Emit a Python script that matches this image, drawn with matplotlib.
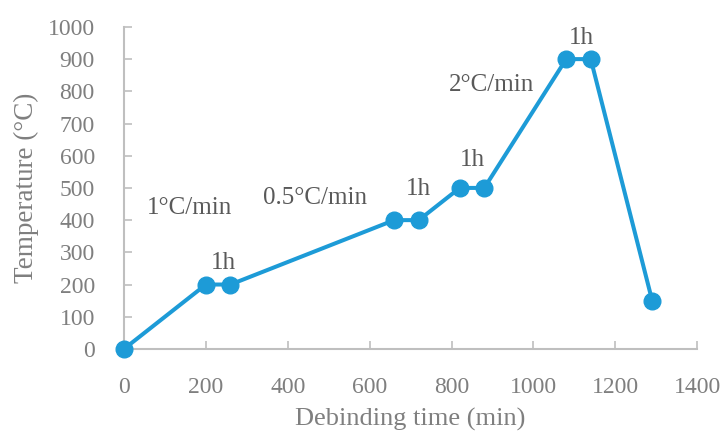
import matplotlib.pyplot as plt

# debinding schedule
time_min = [0, 200, 260, 660, 720, 820, 880, 1080, 1140, 1290]
temp_c = [0, 200, 200, 400, 400, 500, 500, 900, 900, 150]

rate_labels = ["1°C/min", "0.5°C/min", "2°C/min"]
rate_pos = [(160, 438), (467, 469), (897, 820)]
hold_labels = ["1h", "1h", "1h", "1h"]
hold_pos = [(244, 267), (719, 497), (851, 587), (1117, 966)]

LINE = "#1D9BD7"
AXIS = "#BFBFBF"
TICK_TXT = "#7F7F7F"
NOTE_TXT = "#595959"

plt.rcParams["font.family"] = ["Liberation Serif", "DejaVu Serif"]

fig = plt.figure(figsize=(7.21, 4.34), dpi=100)
ax = fig.add_axes([0.172, 0.196, 0.795, 0.742])

ax.plot(time_min, temp_c, "-o", color=LINE, lw=2.9, markersize=12,
        clip_on=False, zorder=3)

for txt, (x, y) in zip(rate_labels, rate_pos):
    ax.text(x, y, txt, ha="center", va="center", fontsize=18, color=NOTE_TXT)
for txt, (x, y) in zip(hold_labels, hold_pos):
    ax.text(x, y, txt, ha="center", va="center", fontsize=18, color=NOTE_TXT)

ax.set_xlim(0, 1400)
ax.set_ylim(0, 1000)
ax.set_xticks(range(0, 1401, 200))
ax.set_yticks(range(0, 1001, 100))

for side in ("top", "right"):
    ax.spines[side].set_visible(False)
for side in ("left", "bottom"):
    ax.spines[side].set_color(AXIS)
    ax.spines[side].set_linewidth(1.5)

ax.tick_params(axis="both", direction="in", length=6, width=1.2, color=AXIS,
               labelsize=17, labelcolor=TICK_TXT)
ax.tick_params(axis="x", pad=20)
ax.tick_params(axis="y", pad=21)

ax.set_xlabel("Debinding time (min)", fontsize=19, color=TICK_TXT, labelpad=7)
ax.set_ylabel("Temperature (°C)", fontsize=19.5, color=TICK_TXT, labelpad=6)

fig.savefig("out.png", dpi=100)
